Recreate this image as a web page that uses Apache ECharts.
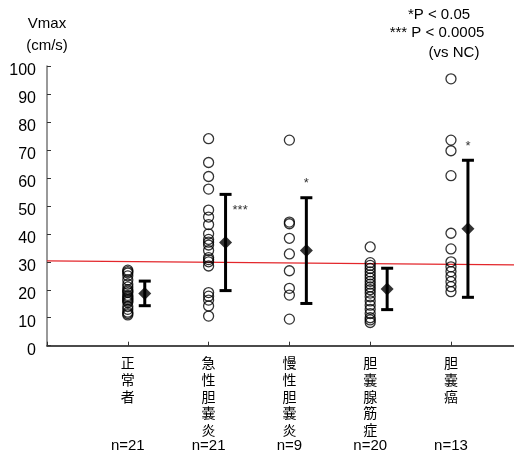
<!DOCTYPE html>
<html>
<head>
<meta charset="utf-8">
<title>Vmax</title>
<script src="https://cdn.jsdelivr.net/npm/echarts@6/dist/echarts.min.js"></script>
</head>
<body style="margin:0">
<div id="main" style="width:514px;height:453px;"></div>
<script type="text/javascript">
// categories and sample sizes
var categories = ['正常者', '急性胆嚢炎', '慢性胆嚢炎', '胆嚢腺筋症', '胆嚢癌'];
var counts = ['n=21', 'n=21', 'n=9', 'n=20', 'n=13'];

// individual Vmax values (cm/s) per group
var normalVals = [27, 26.5, 26, 25, 23.5, 22, 21, 20, 19.5, 19, 18, 17.5, 17, 16.5, 16, 15.5, 14, 13, 12, 11.5, 11];
var acuteVals = [74, 65.5, 60.5, 56, 48.5, 46, 43.3, 40, 38, 37, 36, 34, 31.5, 30.8, 30, 28.5, 19, 17.7, 16.3, 14.2, 10.6];
var chronicVals = [73.5, 44.2, 43.6, 38.4, 32.8, 26.8, 20.5, 18.1, 9.5];
var adenoVals = [35.3, 29.7, 28.7, 27.6, 26.4, 25.3, 24.2, 23, 22, 21, 20, 18.8, 17.5, 16, 14.5, 13, 11.5, 10, 8.3, 9.2];
var cancerVals = [95.4, 73.5, 69.7, 60.8, 40.2, 34.6, 30, 28.2, 26.5, 24.7, 22.9, 21.1, 19.3];

// mean and SD per group, significance marks vs NC
var means = [18.7, 36.9, 34.0, 20.3, 41.8];
var sds = [4.4, 17.2, 18.9, 7.4, 24.5];
var marks = ['', '***', '*', '', '*'];

// red reference line (start / end)
var refLine = [[0, 30.3], [5.78, 28.9]];

var groups = [normalVals, acuteVals, chronicVals, adenoVals, cancerVals];
var dots = [];
groups.forEach(function (g, i) {
    g.forEach(function (v) { dots.push([i + 1, v]); });
});
var meanPts = means.map(function (m, i) { return [i + 1.21, m]; });
var barData = means.map(function (m, i) { return [i + 1.21, m, sds[i], i]; });

var txt = function (t, x, y) {
    return { type: 'text', style: { text: t, x: x, y: y, align: 'center', verticalAlign: 'middle', fontSize: 15, fontFamily: 'Liberation Sans', fill: '#000' } };
};

var myChart = echarts.init(document.getElementById('main'));
var option = {
    animation: false,
    grid: { left: 47, right: 0, top: 66, bottom: 107.3, outerBoundsMode: 'none' },
    graphic: [
        txt('*P < 0.05', 439, 15),
        txt('*** P < 0.0005', 437, 33),
        txt('(vs NC)', 454, 53)
    ],
    xAxis: {
        type: 'value',
        min: 0,
        max: 5.78,
        interval: 1,
        splitLine: { show: false },
        axisLine: { lineStyle: { color: '#111', width: 1.5 } },
        axisTick: { inside: true, length: 4, lineStyle: { color: '#333' } },
        axisLabel: {
            margin: 9,
            showMaxLabel: false,
            formatter: function (v) {
                var i = Math.round(v) - 1;
                if (i < 0 || i >= categories.length || Math.abs(v - i - 1) > 0.01) return '';
                var lines = categories[i].split('').map(function (c) { return '{c|' + c + '}'; });
                while (lines.length < 5) lines.push('{c| }');
                lines.push('{n|' + counts[i] + '}');
                return lines.join('\n');
            },
            rich: {
                c: { fontSize: 14, lineHeight: 16.7, fontFamily: 'Noto Sans CJK JP', color: '#000' },
                n: { fontSize: 15, lineHeight: 10, fontFamily: 'Liberation Sans', color: '#000', padding: [5, 0, 0, 0] }
            }
        }
    },
    yAxis: {
        type: 'value',
        min: 0,
        max: 100,
        interval: 10,
        name: 'Vmax\n(cm/s)',
        nameLocation: 'end',
        nameGap: 9,
        nameTextStyle: { fontSize: 15, lineHeight: 22, fontFamily: 'Liberation Sans', color: '#000', align: 'center' },
        splitLine: { show: false },
        axisLine: { lineStyle: { color: '#777', width: 1.5 } },
        axisTick: { inside: true, length: 4, lineStyle: { color: '#333' } },
        axisLabel: { margin: 11, fontSize: 16, fontFamily: 'Liberation Sans', color: '#000', verticalAlign: 'top', lineHeight: 10 }
    },
    series: [
        {
            type: 'line',
            data: refLine,
            symbol: 'none',
            lineStyle: { color: '#e3262b', width: 1.2 },
            z: 1
        },
        {
            type: 'scatter',
            data: dots,
            symbol: 'circle',
            symbolSize: 10,
            itemStyle: { color: 'rgba(0,0,0,0)', borderColor: '#000', borderWidth: 1.3 },
            z: 3
        },
        {
            type: 'custom',
            data: barData,
            renderItem: function (params, api) {
                var x = api.value(0), m = api.value(1), s = api.value(2), idx = api.value(3);
                var top = api.coord([x, m + s]);
                var bot = api.coord([x, m - s]);
                var hw = 6;
                var st = { stroke: '#000', lineWidth: 3 };
                var children = [
                    { type: 'line', shape: { x1: top[0], y1: top[1], x2: bot[0], y2: bot[1] }, style: st },
                    { type: 'line', shape: { x1: top[0] - hw, y1: top[1], x2: top[0] + hw, y2: top[1] }, style: st },
                    { type: 'line', shape: { x1: bot[0] - hw, y1: bot[1], x2: bot[0] + hw, y2: bot[1] }, style: st }
                ];
                var mk = marks[idx];
                if (mk === '***') {
                    children.push({ type: 'text', style: { text: mk, x: top[0] + 7, y: top[1] + 16, align: 'left', verticalAlign: 'middle', fontSize: 13, fontFamily: 'Liberation Sans', fill: '#333' } });
                } else if (mk) {
                    children.push({ type: 'text', style: { text: mk, x: top[0], y: top[1] - 14, align: 'center', verticalAlign: 'middle', fontSize: 13, fontFamily: 'Liberation Sans', fill: '#333' } });
                }
                return { type: 'group', children: children };
            },
            z: 4
        },
        {
            type: 'scatter',
            data: meanPts,
            symbol: 'diamond',
            symbolSize: [13, 13],
            itemStyle: { color: '#000' },
            z: 5
        }
    ]
};
myChart.setOption(option);
</script>
</body>
</html>
